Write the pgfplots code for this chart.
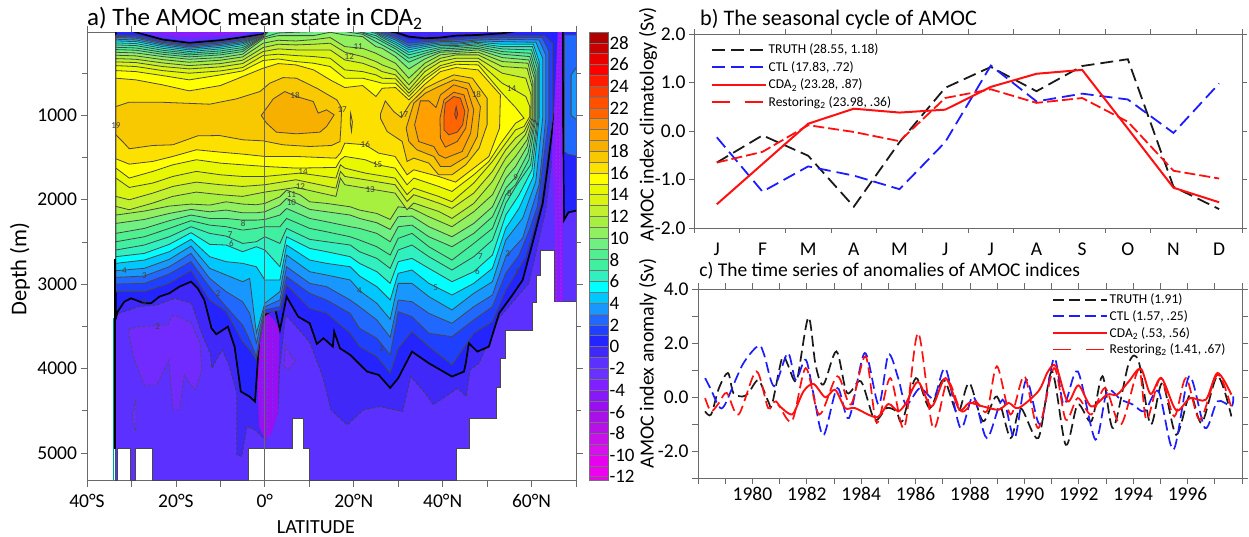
\documentclass[border=0pt]{standalone}
\usepackage{fontspec}
\setmainfont{Carlito}
\usepackage{pgfplots}
\pgfplotsset{compat=1.18}
% band colours of the colour bar
\definecolor{c28}{HTML}{B00000}\definecolor{c27}{HTML}{C80000}\definecolor{c26}{HTML}{E80000}\definecolor{c25}{HTML}{FF0000}
\definecolor{c24}{HTML}{FF1A00}\definecolor{c23}{HTML}{FF3C00}\definecolor{c22}{HTML}{FF5000}\definecolor{c21}{HTML}{FF6400}
\definecolor{c20}{HTML}{FF8C00}\definecolor{c19}{HTML}{FFA000}\definecolor{c18}{HTML}{F8B000}\definecolor{c17}{HTML}{F8C800}
\definecolor{c16}{HTML}{FCE000}\definecolor{c15}{HTML}{FFFF00}\definecolor{c14}{HTML}{E8F800}\definecolor{c13}{HTML}{D8F410}
\definecolor{c12}{HTML}{C0F030}\definecolor{c11}{HTML}{A8F040}\definecolor{c10}{HTML}{90F060}\definecolor{c9}{HTML}{70F080}
\definecolor{c8}{HTML}{50F090}\definecolor{c7}{HTML}{40F0A0}\definecolor{c6}{HTML}{30F0C0}\definecolor{c5}{HTML}{00FFFF}
\definecolor{c4}{HTML}{00C8FF}\definecolor{c3}{HTML}{1898FF}\definecolor{c2}{HTML}{2068FF}\definecolor{c1}{HTML}{2040FF}
\definecolor{c0}{HTML}{2424FF}\definecolor{cm1}{HTML}{4028F8}\definecolor{cm2}{HTML}{5C30FF}\definecolor{cm3}{HTML}{6A30FF}
\definecolor{cm4}{HTML}{8020FF}\definecolor{cm5}{HTML}{8818F8}\definecolor{cm6}{HTML}{9810F0}\definecolor{cm7}{HTML}{A810E8}
\definecolor{cm8}{HTML}{B810E8}\definecolor{cm9}{HTML}{C810E8}\definecolor{cm10}{HTML}{D810F0}\definecolor{cm11}{HTML}{E800F0}
\definecolor{cm12}{HTML}{F000F0}
\definecolor{axc}{HTML}{6A6A6A}
\definecolor{tblack}{HTML}{1A1A1A}\definecolor{tblue}{HTML}{1C1CFF}\definecolor{tred}{HTML}{FF1010}
\newcommand{\sz}[1]{\fontsize{#1}{#1}\selectfont}
\newcommand{\Iso}[2]{\addplot[fill=#1,draw=black!72,line width=.8pt] coordinates {#2} -- cycle;}
\newcommand{\Bnd}[3]{\addplot[fill=#1,draw=black!55,line width=.6pt] coordinates {(0,#2)(1,#2)(1,#3)(0,#3)} -- cycle;}
\newcommand{\Lab}[3]{\node[font=\sz{9},text=black!75,inner sep=0pt] at (axis cs:#1,#2) {#3};}
\begin{document}
\begin{tikzpicture}
\path[use as bounding box] (0,0) rectangle (1249pt,536pt);
%------------------------------------------------ panel a
\begin{axis}[at={(87pt,56pt)},anchor=south west,scale only axis,width=489pt,height=448pt,
 xmin=-40,xmax=70,ymin=14,ymax=5320,y dir=reverse,
 axis line style={axc,line width=.8pt},tick style={axc,line width=.8pt},
 tick align=outside,major tick length=6.5pt,minor tick length=5pt,
 xtick={-40,-30,...,70},xticklabels={40°S,,20°S,,0°,,20°N,,40°N,,60°N,},
 ytick={1000,2000,3000,4000,5000},minor ytick={500,1500,2500,3500,4500},
 xticklabel pos=bottom,yticklabel pos=left,
 /pgf/number format/1000 sep={},/pgf/number format/assume math mode=true,
 tick label style={font=\sz{19.5}},xticklabel style={yshift=-4pt},
 xlabel={LATITUDE},xlabel style={font=\sz{20},at={(axis description cs:0.468,-0.105)},anchor=center},
 ylabel={Depth (m)},ylabel style={font=\sz{22.5},at={(axis description cs:-0.137,0.471)},anchor=center,rotate=0},
 title={a) The AMOC mean state in CDA\textsubscript{2}},title style={font=\sz{25},at={(axis description cs:0,1)},anchor=west,yshift=7.5pt,inner sep=0pt}]
% ocean domain with the bottom steps
\Iso{cm2}{(-33.6,0)(-33.6,5330)(-33.1,5330)(-33.1,4950)(-30.3,4950)(-30.3,5330)(-29.2,5330)(-29.2,4950)(-25.2,4950)(-25.2,5330)(-3.6,5330)(-3.6,4950)(6.1,4950)(6.1,4588)(8.7,4588)(8.7,4950)(10.1,4950)(10.1,5330)(43,5330)(43,4950)(46,4950)(46,4588)(52.2,4588)(52.2,4221)(53.1,4221)(53.1,3878)(54.1,3878)(54.1,3543)(60.2,3543)(60.2,3215)(61.2,3215)(61.2,2892)(62,2892)(62,2596)(65.1,2596)(65.1,3208)(70,3208)(70,0)}
% -2 islands
\addplot[fill=cm3!70!cm4,draw=black!70,dash pattern=on 3pt off 2pt,line width=.6pt] coordinates {(-30.8,3543)(-28.5,3503)(-21.8,3484)(-21,3385)(-20.2,3365)(-16.5,3464)(-14.6,3700)(-14.2,4016)(-15.6,4252)(-16.9,4174)(-18.1,4075)(-19.2,4489)(-20.6,4489)(-21.6,3898)(-24.3,4194)(-27.1,4194)(-29.4,3878)} -- cycle;
\addplot[fill=cm3!70!cm4,draw=black!70,dash pattern=on 3pt off 2pt,line width=.6pt] coordinates {(4.3,3976)(4.7,3720)(6.1,3878)(7,3898)(5.2,4016)} -- cycle;
\addplot[fill=cm3,draw=black!70,dash pattern=on 3pt off 2pt,line width=.6pt] coordinates {(-29.8,4568)(-29,4370)(-29,4745)} -- cycle;
% -1 line
\addplot[fill=cm1,draw=black!75,dash pattern=on 3pt off 2pt,line width=.7pt] coordinates {(-33.6,0)(66.5,0)(65.8,800)(64.9,1400)(63.2,2123)(59.4,2991)(52.7,3400)(48.2,3937)(46.2,4016)(45.3,4331)(43.4,4233)(37.9,4430)(36.1,4292)(32.8,4095)(31,4509)(25.9,4450)(22.2,4489)(18.5,4667)(14.9,4489)(13,4095)(10.2,3700)(8.4,3582)(4.7,3365)(3.3,4016)(2.9,4528)(0.1,4844)(-2.2,4726)(-4,4686)(-5.2,5041)(-6.3,5021)(-6.3,4292)(-8.2,3937)(-9.6,3779)(-11.9,3996)(-12.3,3819)(-14.2,3582)(-16.5,3227)(-20.2,3168)(-24.3,3247)(-28.5,3267)(-30.5,3306)(-33.6,3360)} -- cycle;
% equatorial deep cell
\addplot[fill=cm6,draw=none] coordinates {(-1.5,3385)(0.1,3326)(2.1,3424)(3.3,3543)(2.9,4528)(1.5,4765)(0.1,4844)(-1.3,4686)(-1.7,4016)} -- cycle;
\addplot[draw=cm3,line width=1pt,dash pattern=on 2pt off 2pt] coordinates {(-0.6,3400)(-0.6,4600)};
\addplot[draw=cm3,line width=1pt,dash pattern=on 2pt off 2pt] coordinates {(0.6,3400)(0.6,4800)};
\addplot[draw=cm3,line width=1pt,dash pattern=on 2pt off 2pt] coordinates {(1.8,3500)(1.8,4600)};
% isolines, each region >= level
\addplot[fill=c0,draw=black,line width=1.7pt] coordinates {(-33.5,0)(-30,0)(-28,30)(-23,104)(-17,143)(-10,112)(-5,76)(-0.4,41)(1,0)(26.4,0)(29.4,17)(32.4,69)(36,88)(39.5,80)(43,57)(48,49)(53.4,29)(57,0)(67,0)(66.2,364)(65.8,759)(64.7,1153)(63.6,1626)(62.5,2044)(60.2,2518)(58,2951)(55.7,3129)(52.7,3346)(50.4,3740)(47.8,3799)(45.9,3700)(45.2,3937)(44.8,4036)(42.1,4095)(36.9,3937)(33.1,3799)(30,4114)(28.2,4229)(25.6,4075)(23,4036)(21.1,3937)(19.2,3838)(16.9,3760)(15.6,3562)(15.3,3740)(13.2,3641)(11.7,3708)(10.1,3464)(7.5,3385)(4.9,3148)(3.4,3543)(2.3,3287)(0,3365)(-1,3464)(-2.2,4390)(-3.5,4330)(-5.4,4272)(-6.8,3740)(-8.3,3503)(-10.9,3594)(-12,3523)(-13.6,3188)(-15.1,3050)(-16.6,2971)(-19.2,3030)(-21.5,3109)(-23.7,3148)(-25.6,3227)(-27.1,3227)(-30.1,3168)(-31.6,3208)(-33.1,3326)(-33.5,3400)} -- cycle;
\Iso{c1}{(-33.5,49)(-29,53)(-23,120)(-17,159)(-10,128)(-5,92)(-0.4,49)(1,0)(26.4,0)(29.4,41)(32.4,108)(36,108)(39.5,100)(43,88)(48,69)(53.4,57)(63,60)(64.7,150)(64.7,1035)(62.1,2044)(60.2,2399)(58.7,2675)(56.7,2853)(54.2,3070)(51.2,3444)(47,3582)(42.1,3957)(36.9,3740)(33.1,3562)(30,3760)(28.2,4055)(25.2,3858)(21.3,3740)(19.2,3582)(13.9,3346)(10.1,3287)(4.9,3011)(3.4,3306)(0,3346)(-1.9,3898)(-3.4,3779)(-5,3681)(-8.7,3326)(-12.4,3188)(-16.6,2841)(-21.5,2991)(-27.1,3089)(-33.5,3089)}
\Iso{c2}{(-33.5,65)(-29,73)(-23,136)(-17,175)(-10,143)(-5,108)(-0.4,53)(1,0)(24,0)(26.4,17)(29.4,69)(32.4,147)(36,128)(39.5,116)(43,108)(48,88)(53.4,80)(62.4,80)(63.9,240)(63.9,1035)(61.3,2084)(59.5,2360)(57.2,2656)(54.2,2872)(51.2,3267)(47,3424)(42.1,3622)(36.9,3582)(33.1,3385)(30,3326)(28.2,3838)(25.2,3641)(21.3,3523)(19.2,3346)(13.9,3188)(10.1,3109)(4.9,2912)(3.4,3267)(0,3306)(-1.9,3858)(-3.4,3661)(-5,3484)(-8.7,3267)(-12.4,3038)(-16.6,2734)(-21.5,2880)(-27.1,2991)(-33.5,2999)}
\Iso{c3}{(-33.5,80)(-29,88)(-23,151)(-17,191)(-10,159)(-5,124)(-0.4,57)(1,0)(24,0)(26.4,33)(29.4,88)(32.4,175)(36,147)(39.5,128)(43,128)(48,108)(53.4,100)(61.7,108)(63.2,285)(63.2,1035)(61.7,1823)(58,2454)(54.2,2675)(51.2,3129)(47,3267)(42.1,3464)(36.9,3346)(33.1,3208)(30,3188)(28.2,3629)(25.2,3424)(21.3,3267)(19.2,3188)(13.9,3030)(10.1,2991)(4.9,2794)(3.4,3188)(0,3267)(-1.9,3700)(-3.4,3346)(-5,3208)(-8.7,3089)(-12.4,2932)(-16.6,2636)(-21.5,2794)(-27.1,2904)(-33.5,2920)}
\Iso{c4}{(-33.5,100)(-29,108)(-23,167)(-17,207)(-10,175)(-5,140)(-0.4,61)(1,0)(24,0)(26.4,49)(29.4,108)(32.4,199)(36,167)(39.5,143)(43,147)(48,120)(53.4,128)(61,136)(62.5,325)(62.5,1035)(60.95,1784)(58,2218)(54.2,2478)(51.2,2971)(47,3109)(42.1,3306)(36.9,3148)(33.1,2991)(30,2991)(28.2,3417)(25.2,3227)(21.3,3077)(19.2,2951)(13.9,2892)(10.1,2853)(4.9,2656)(3.4,3089)(0,3227)(-1.9,3582)(-3.4,2932)(-5,2971)(-8.7,2892)(-12.4,2813)(-16.6,2549)(-21.5,2707)(-27.1,2813)(-33.5,2841)}
\Iso{c5}{(-33.5,120)(-29,128)(-23,187)(-17,226)(-10,195)(-5,155)(-0.4,65)(1,0)(23,0)(25,17)(26.4,65)(29.4,136)(32.4,226)(36,187)(39.5,159)(43,159)(48,136)(53.4,159)(60.4,159)(61.7,364)(61.7,1035)(60.4,1725)(57.2,2100)(54.2,2340)(51.2,2813)(47,2991)(42.1,3129)(36.9,2991)(33.1,2833)(30,2872)(28.2,3188)(25.2,3030)(21.3,2904)(19.2,2794)(13.9,2754)(10.1,2715)(4.9,2537)(3.4,2951)(0,2951)(-1.9,2794)(-5,2754)(-8.7,2734)(-12.4,2675)(-16.6,2470)(-21.5,2616)(-27.1,2715)(-33.5,2754)}
\Iso{c6}{(-33.5,143)(-29,151)(-23,207)(-17,246)(-10,214)(-5,175)(-0.4,69)(1,0)(23,0)(25,33)(26.4,80)(29.4,159)(32.4,254)(36,207)(39.5,175)(43,175)(48,151)(53.4,187)(60.2,187)(61.5,404)(61.5,1035)(60.1,1646)(57.2,1942)(54.2,2182)(51.2,2656)(47,2853)(42.1,2971)(36.9,2813)(33.1,2695)(30,2734)(28.2,2991)(25.2,2853)(21.3,2754)(19.2,2675)(13.9,2616)(10.1,2577)(4.9,2439)(3.4,2794)(0,2596)(-1.9,2557)(-5,2616)(-8.7,2537)(-12.4,2529)(-16.6,2391)(-21.5,2529)(-27.1,2636)(-33.5,2675)}
\Iso{c7}{(-33.5,167)(-29,175)(-23,230)(-17,266)(-10,238)(-5,199)(-0.4,73)(1,0)(20,0)(22,17)(25,57)(26.4,104)(29.4,187)(32.4,285)(36,238)(39.5,195)(43,187)(48,167)(53.4,214)(60,226)(61.3,443)(61.3,1035)(59.8,1587)(56.7,1823)(54.2,2044)(51.2,2478)(47,2675)(42.1,2833)(36.9,2675)(33.1,2537)(30,2596)(28.2,2813)(25.2,2695)(21.3,2616)(19.2,2537)(13.9,2498)(10.1,2470)(4.9,2340)(3.4,2518)(0,2439)(-1.9,2498)(-5,2518)(-8.7,2431)(-12.4,2399)(-16.6,2320)(-21.5,2439)(-27.1,2537)(-33.5,2596)}
\Iso{c8}{(-33.5,195)(-29,203)(-23,254)(-17,285)(-10,262)(-5,222)(-0.4,76)(1,0)(20,0)(22,25)(25,88)(26.4,128)(29.4,214)(32.4,325)(36,266)(39.5,214)(43,207)(48,187)(53.4,246)(59.8,266)(61,483)(61,1035)(59.4,1528)(56.4,1824)(54.2,1942)(51.2,2340)(47,2518)(42.1,2715)(36.9,2557)(33.1,2399)(30,2458)(28.2,2656)(25.2,2557)(21.3,2478)(19.2,2439)(13.9,2380)(10.1,2340)(4.9,2222)(3.4,2320)(0,2320)(-1.9,2340)(-5,2360)(-8.7,2320)(-12.4,2301)(-16.6,2249)(-21.5,2340)(-27.1,2439)(-33.5,2498)}
\Iso{c9}{(-33.5,222)(-29,230)(-23,278)(-17,309)(-10,285)(-5,246)(-0.4,80)(3,25)(7,17)(11,9)(14.7,2)(18,9)(22,41)(25,128)(26.4,167)(29.4,254)(32.4,372)(36,293)(39.5,238)(43,226)(48,207)(53.4,277)(59.6,305)(60.8,522)(60.8,1035)(59.2,1449)(56.4,1733)(54.2,1863)(51.2,2202)(47,2399)(42.1,2557)(36.9,2439)(33.1,2301)(30,2320)(28.2,2498)(25.2,2399)(21.3,2340)(19.2,2320)(13.9,2261)(10.1,2222)(4.9,2104)(3.4,2182)(0,2234)(-1.9,2242)(-5,2242)(-8.7,2222)(-12.4,2222)(-16.6,2182)(-21.5,2249)(-27.1,2340)(-33.5,2399)}
\Iso{c10}{(-33.5,254)(-29,262)(-23,305)(-17,337)(-10,317)(-5,277)(-0.4,96)(3,57)(7,57)(11,57)(14.7,17)(18,49)(22,69)(25,187)(26.4,207)(29.4,305)(32.4,451)(36,333)(39.5,254)(43,246)(48,226)(53.4,317)(59.4,345)(60.6,561)(60.6,1035)(59,1370)(56.4,1607)(54.2,1745)(51.2,2084)(47,2281)(42.1,2439)(36.9,2320)(33.1,2194)(30,2202)(28.2,2352)(25.2,2273)(21.3,2222)(19.2,2182)(13.9,2143)(10.1,2115)(4.9,1985)(3.4,2064)(0,2143)(-1.9,2155)(-5,2155)(-8.7,2123)(-12.4,2143)(-16.6,2115)(-21.5,2163)(-27.1,2234)(-33.5,2281)}
\Iso{c11}{(-33.5,289)(-29,297)(-23,341)(-17,372)(-10,348)(-5,309)(-0.4,147)(3,112)(7,120)(11,104)(14.7,80)(18,187)(22,207)(25,266)(26.4,305)(29.4,384)(32.4,561)(36,384)(39.5,285)(43,266)(48,254)(53.4,364)(59.2,384)(60.3,620)(60.3,1035)(59,1291)(56.4,1488)(54.2,1626)(51.2,1942)(47,2143)(42.1,2320)(36.9,2202)(33.1,2104)(30,2084)(28.2,2234)(25.2,2163)(21.3,2123)(19.2,2084)(13.9,2044)(10.1,2025)(7.9,1942)(4.9,1887)(3.4,1966)(0,2044)(-1.9,2060)(-5,2052)(-8.7,2025)(-12.4,2064)(-16.6,2052)(-21.5,2076)(-27.1,2135)(-33.5,2182)}
\Iso{c12}{(-33.5,329)(-29,337)(-23,380)(-17,412)(-10,388)(-5,348)(-0.4,199)(3,159)(7,167)(11,159)(14.7,147)(18,254)(22,305)(25,364)(26.4,404)(29.4,463)(32.4,640)(36,435)(39.5,325)(43,285)(48,285)(53.4,423)(59,443)(60.1,660)(60.1,1035)(58.6,1232)(56.4,1370)(54.2,1508)(51.2,1784)(47,2044)(42.1,2221)(39.1,2139)(33.5,2040)(32,2119)(29.3,1922)(22.6,1863)(18,1823)(17,1744)(16,1961)(7,1855)(0,1910)(-5,1961)(-10,1941)(-15.4,1910)(-20.7,1961)(-25.2,2040)(-30.5,2119)(-33.5,2080)}
\Iso{c13}{(-33.5,368)(-29,376)(-23,423)(-17,451)(-10,427)(-5,388)(-0.4,246)(3,214)(7,226)(11,226)(14.7,226)(18,345)(22,384)(25,443)(26.4,483)(29.4,522)(32.4,699)(36,483)(39.5,364)(43,325)(48,325)(53.4,502)(58.7,561)(59.9,759)(59.8,1035)(58.3,1192)(56.4,1271)(54.2,1409)(51.2,1665)(47,1922)(42.1,2103)(39.1,2040)(33.5,1941)(32,2021)(29.3,1823)(22.6,1764)(18,1725)(17,1665)(16,1863)(7,1764)(0,1823)(-5,1843)(-10,1823)(-15.4,1792)(-20.7,1843)(-25.2,1922)(-30.5,2001)(-33.5,1961)}
\Iso{c14}{(-33.5,412)(-29,423)(-23,471)(-17,502)(-10,475)(-5,435)(-0.4,293)(3,277)(7,293)(11,305)(14.7,325)(18,463)(22,483)(25,522)(26.4,561)(29.4,569)(32.4,739)(36,542)(39.5,412)(43,364)(48,364)(53.4,621)(55.5,680)(58.7,778)(59.6,897)(59.6,1015)(58.3,1133)(56.4,1173)(54.2,1330)(51.2,1547)(47,1803)(42.1,2024)(39.1,1961)(33.5,1863)(32,1941)(29.3,1744)(22.6,1685)(18,1626)(17,1587)(16,1744)(7.9,1685)(0,1725)(-5,1725)(-10,1705)(-15.4,1665)(-20.7,1725)(-25.2,1803)(-30.5,1855)(-33.5,1744)}
\Iso{c15}{(-33.5,471)(-29,483)(-23,530)(-17,581)(-10,522)(-5,475)(-0.4,352)(3,333)(7,364)(11,384)(14.7,423)(18,561)(22,561)(25,601)(26.4,621)(29.4,621)(32.4,778)(36,581)(39.5,443)(43,396)(48,404)(53.4,739)(56.4,908)(58.3,1035)(56.4,1094)(53.1,1330)(50.4,1547)(47,1705)(42.1,1902)(39.1,1843)(33.5,1744)(32,1823)(29.3,1626)(25.4,1587)(22.6,1527)(18,1488)(17,1527)(16,1618)(7,1626)(0,1606)(-5,1587)(-10,1567)(-15.4,1527)(-20.7,1587)(-25.2,1665)(-30.5,1744)(-33.5,1626)}
\Iso{c16}{(-33.5,561)(-29,581)(-23,640)(-17,711)(-10,648)(-5,542)(-0.4,443)(3,388)(7,404)(11,463)(14.7,581)(18,672)(22,648)(25,778)(26.4,680)(29.4,672)(32.4,818)(36,632)(39.5,483)(43,435)(48,463)(53,759)(52.8,1153)(50.4,1488)(47,1626)(42.9,1792)(39.1,1725)(33.5,1646)(32,1705)(29.3,1488)(25.6,1449)(22.6,1350)(18,1330)(17,1449)(16,1508)(7,1488)(0,1488)(-5,1460)(-10,1437)(-15.4,1409)(-20.7,1488)(-25.2,1547)(-30.5,1579)(-33.5,1516)}
% level 17 and above
\Iso{c17}{(-33.5,897)(-30.5,845)(-23.7,845)(-12.4,869)(-6.4,806)(-1.1,719)(1.1,621)(4.1,554)(7.1,561)(11.7,680)(16.2,818)(17.3,916)(17.1,1153)(16.9,1311)(15,1358)(10.1,1370)(4.1,1350)(-0.4,1303)(-4.9,1291)(-10.2,1240)(-15.1,1244)(-20.7,1350)(-25.2,1358)(-30.5,1397)(-32,1311)(-33.5,1232)}
\Iso{c17}{(19.3,975)(19.7,1080)(19.5,1190)(19.2,1080)}
\Iso{c17}{(26,987)(27.1,830)(29,956)(30.7,1027)(32.7,857)(36.1,680)(39.1,601)(42.5,522)(46.7,561)(50,798)(50,1113)(48.2,1390)(45.2,1587)(42.1,1705)(39.1,1705)(36.9,1567)(33.5,1508)(32,1547)(30.9,1311)(27.5,1192)(26,1035)}
\Iso{c18}{(-0.8,1003)(1.9,806)(4.5,719)(7.1,778)(10.9,837)(12,975)(13.9,936)(15.6,995)(13.9,1133)(12.4,1200)(7.1,1220)(2.6,1200)(0.4,1094)}
\Iso{c18}{(31.8,1153)(33.5,857)(36.1,739)(39.1,660)(42.5,581)(45.9,621)(48.5,897)(47.8,1252)(45.5,1488)(41.8,1606)(39.5,1606)(38,1488)(34.2,1409)(32.4,1311)}
\Iso{c19}{(33.7,1113)(35,830)(36.9,830)(38.5,908)(39.5,759)(42.5,640)(45.5,688)(47,936)(46.3,1212)(44.4,1429)(40.6,1508)(39.1,1468)(38,1370)(34.6,1311)}
\Iso{c20}{(39.4,1035)(40.3,818)(42.5,727)(44.8,759)(45.8,936)(45.2,1153)(43.3,1311)(40.6,1378)(39.5,1271)}
\Iso{c21}{(40.3,1015)(40.6,857)(42.5,778)(44,798)(45,956)(44.5,1113)(43.3,1200)(41.4,1232)(40.3,1173)}
\Iso{c23}{(43.04,897)(43.4,987)(43.04,1043)(42.7,987)}
% eastern cell
\addplot[fill=c0,draw=black,line width=1.7pt] coordinates {(67,0)(70.5,0)(70.5,2124)(68.3,2150)(67.3,2242)(67.1,1200)} -- cycle;
\Iso{c2}{(67.4,49)(70.5,49)(70.5,1488)(68.1,1460)(67.4,1429)}
\Iso{c3}{(70.5,404)(68.9,522)(68.9,1000)(70.5,1070)}
% strip of negative values at 65N
\addplot[fill=cm4,draw=none] coordinates {(65.9,0)(66.8,0)(66.9,1200)(67.1,2200)(67.1,3208)(65.3,3208)(65.3,2200)(64.5,1500)(65.2,800)} -- cycle;
\addplot[draw=cm9,line width=1.1pt,dash pattern=on 2pt off 2pt] coordinates {(66.2,0)(65.6,1000)(65.5,2200)(65.6,3208)};
\addplot[draw=cm9,line width=1.1pt,dash pattern=on 2pt off 2pt] coordinates {(66.5,0)(66.2,1000)(66.4,2200)(66.6,3208)};
% surface cell in the south
\addplot[fill=cm2,draw=none] coordinates {(-29.5,0)(-23,85)(-17,125)(-10,95)(-5,60)(-1,0)} -- cycle;
\addplot[fill=cm4,draw=none] coordinates {(-26,0)(-20,72)(-16,85)(-10,62)(-5,30)(-3,0)} -- cycle;
\addplot[draw=cm8,line width=1.2pt,dash pattern=on 1.5pt off 1.5pt] coordinates {(-25,38)(-15,45)(-5,30)};
% side lines and 0 degree line
\addplot[draw=black,line width=2pt] coordinates {(-33.6,2700)(-33.6,4950)};
\addplot[draw=c5!60!black,line width=1pt] coordinates {(-34.1,3400)(-34.1,5320)};
\addplot[draw=c3!60!black,line width=1.8pt] coordinates {(-33.6,4950)(-33.6,5320)};
\addplot[draw=black!60,line width=.9pt] coordinates {(0,0)(0,5320)};
% contour labels
\Lab{6.8}{766}{18}\Lab{8.6}{1673}{14}\Lab{8}{1843}{12}\Lab{6}{1942}{11}\Lab{6}{2040}{10}
\Lab{17.4}{936}{17}\Lab{-4.9}{2281}{8}\Lab{-7.8}{2419}{7}\Lab{-7.5}{2518}{6}\Lab{-31.6}{2841}{4}
\Lab{-27.1}{2904}{3}\Lab{-27.1}{3208}{0}\Lab{-24.1}{3503}{2}\Lab{-10.5}{3109}{2}\Lab{22.6}{1350}{16}
\Lab{25.4}{1587}{15}\Lab{23.7}{1882}{13}\Lab{21}{185}{11}\Lab{19}{300}{12}\Lab{31.2}{987}{17}
\Lab{47.6}{759}{18}\Lab{55.5}{680}{14}\Lab{56.4}{1733}{9}\Lab{55}{1922}{8}\Lab{21.3}{3077}{4}
\Lab{26.3}{3760}{2}\Lab{54.6}{2636}{3}\Lab{47.8}{2853}{6}\Lab{48.5}{2675}{7}\Lab{38.4}{3038}{5}
\Lab{56.7}{2853}{1}\Lab{-33.5}{1120}{19}
\end{axis}
%------------------------------------------------ colour bar
\begin{axis}[at={(589pt,56pt)},anchor=south west,scale only axis,width=19pt,height=448pt,
 xmin=0,xmax=1,ymin=-12.3,ymax=29,xtick=\empty,ytick={-12,-10,...,28},yticklabel pos=right,
 axis line style={axc,line width=.8pt},major tick length=0pt,
 /pgf/number format/assume math mode=true,tick label style={font=\sz{19}},
 yticklabel style={xshift=-2pt}]
\Bnd{c28}{28}{29}\Bnd{c27}{27}{28}\Bnd{c26}{26}{27}\Bnd{c25}{25}{26}\Bnd{c24}{24}{25}\Bnd{c23}{23}{24}\Bnd{c22}{22}{23}\Bnd{c21}{21}{22}
\Bnd{c20}{20}{21}\Bnd{c19}{19}{20}\Bnd{c18}{18}{19}\Bnd{c17}{17}{18}\Bnd{c16}{16}{17}\Bnd{c15}{15}{16}\Bnd{c14}{14}{15}\Bnd{c13}{13}{14}
\Bnd{c12}{12}{13}\Bnd{c11}{11}{12}\Bnd{c10}{10}{11}\Bnd{c9}{9}{10}\Bnd{c8}{8}{9}\Bnd{c7}{7}{8}\Bnd{c6}{6}{7}\Bnd{c5}{5}{6}
\Bnd{c4}{4}{5}\Bnd{c3}{3}{4}\Bnd{c2}{2}{3}\Bnd{c1}{1}{2}\Bnd{c0}{0}{1}\Bnd{cm1}{-1}{0}\Bnd{cm2}{-2}{-1}\Bnd{cm3}{-3}{-2}
\Bnd{cm4}{-4}{-3}\Bnd{cm5}{-5}{-4}\Bnd{cm6}{-6}{-5}\Bnd{cm7}{-7}{-6}\Bnd{cm8}{-8}{-7}\Bnd{cm9}{-9}{-8}\Bnd{cm10}{-10}{-9}\Bnd{cm11}{-11}{-10}
\Bnd{cm12}{-12}{-11}\Bnd{cm12}{-12.3}{-12}
\end{axis}
%------------------------------------------------ panel b
\begin{axis}[at={(694pt,308pt)},anchor=south west,scale only axis,width=548pt,height=194pt,
 xmin=0,xmax=12,ymin=-2,ymax=2,
 axis line style={axc,line width=.8pt},tick style={axc,line width=.8pt},
 tick align=outside,major tick length=5pt,
 xtick={0,...,12},xticklabels={},
 extra x ticks={0.5,1.5,...,11.5},extra x tick labels={J,F,M,A,M,J,J,A,S,O,N,D},
 extra x tick style={major tick length=0pt,xticklabel style={yshift=-11pt}},
 ytick={-2,-1,0,1,2},xticklabel pos=bottom,yticklabel pos=left,
 /pgf/number format/fixed,/pgf/number format/fixed zerofill,/pgf/number format/precision=1,
 /pgf/number format/assume math mode=true,tick label style={font=\sz{19.5}},
 ylabel={AMOC index climatology (Sv)},ylabel style={font=\sz{20},at={(axis description cs:-0.084,0.535)},anchor=center},
 title={b) The seasonal cycle of AMOC},title style={font=\sz{22.2},at={(axis description cs:0.011,1)},anchor=west,yshift=9pt,inner sep=0pt},
 legend cell align=left,
 legend style={at={(0.03,0.96)},anchor=north west,draw=none,fill=none,font=\sz{13.5},row sep=2.2pt,inner sep=0pt,/tikz/every even column/.append style={column sep=15pt}},
 legend image code/.code={\draw[#1] (0pt,0pt) -- (54pt,0pt);}]
\addplot[tblack,line width=1.8pt,dash pattern=on 13pt off 6pt] coordinates {(0.5,-0.65)(1.5,-0.09)(2.5,-0.51)(3.5,-1.56)(4.5,-0.23)(5.5,0.89)(6.5,1.32)(7.5,0.82)(8.5,1.34)(9.5,1.48)(10.5,-1.15)(11.5,-1.61)};
\addplot[tblue,line width=1.8pt,dash pattern=on 13pt off 6pt] coordinates {(0.5,-0.13)(1.5,-1.25)(2.5,-0.73)(3.5,-0.92)(4.5,-1.2)(5.5,-0.23)(6.5,1.35)(7.5,0.61)(8.5,0.77)(9.5,0.65)(10.5,-0.04)(11.5,0.98)};
\addplot[tred,line width=2pt] coordinates {(0.5,-1.51)(1.5,-0.68)(2.5,0.15)(3.5,0.46)(4.5,0.38)(5.5,0.44)(6.5,0.91)(7.5,1.18)(8.5,1.26)(9.5,0.05)(10.5,-1.17)(11.5,-1.47)};
\addplot[tred,line width=1.8pt,dash pattern=on 11pt off 4pt,legend image post style={dash pattern=on 18pt off 15pt}] coordinates {(0.5,-0.65)(1.5,-0.43)(2.5,0.12)(3.5,-0.02)(4.5,-0.21)(5.5,0.68)(6.5,0.86)(7.5,0.58)(8.5,0.68)(9.5,0.19)(10.5,-0.82)(11.5,-0.98)};
\legend{{TRUTH (28.55, 1.18)},{CTL (17.83, .72)},{CDA\textsubscript{2} (23.28, .87)},{Restoring\textsubscript{2} (23.98, .36)}}
\end{axis}
%------------------------------------------------ panel c
\begin{axis}[at={(698pt,58pt)},anchor=south west,scale only axis,width=544pt,height=189pt,
 xmin=1978,xmax=1998,ymin=-3,ymax=4,
 axis line style={axc,line width=.8pt},tick style={axc,line width=.7pt},
 tick align=outside,major tick length=6pt,minor tick length=3pt,
 xtick={1978,...,1998},xticklabels={,,1980,,1982,,1984,,1986,,1988,,1990,,1992,,1994,,1996,,},
 minor x tick num=11,
 ytick={-3,...,4},yticklabels={,-2.0,,0.0,,2.0,,4.0},xticklabel pos=bottom,yticklabel pos=left,
 /pgf/number format/assume math mode=true,tick label style={font=\sz{19.5}},
 ylabel={AMOC index anomaly (Sv)},ylabel style={font=\sz{20},at={(axis description cs:-0.092,0.606)},anchor=center},
 title={c) The time series of anomalies of AMOC indices},title style={font=\sz{19.5},at={(axis description cs:0.002,1)},anchor=west,yshift=12pt,inner sep=0pt},
 legend cell align=left,
 legend style={at={(0.65,0.985)},anchor=north west,draw=none,fill=none,font=\sz{13.5},row sep=1.2pt,inner sep=0pt,/tikz/every even column/.append style={column sep=17pt}},
 legend image code/.code={\draw[#1] (0pt,0pt) -- (54pt,0pt);}]
\addplot[tblack,line width=1.7pt,dash pattern=on 11pt off 5pt,smooth] coordinates {(1978.26,-.53)(1978.48,-.65)(1978.77,.33)(1979.10,.89)(1979.30,.15)(1979.64,.02)(1979.86,.15)(1980.22,.62)(1980.58,-.16)(1980.72,-.28)(1981.09,1.44)(1981.30,1.20)(1981.52,.64)(1981.67,.77)(1982.06,2.95)(1982.32,1.20)(1982.61,.46)(1983.09,1.69)(1983.48,.15)(1983.99,.58)(1984.49,-.84)(1984.93,-.41)(1985.29,-.53)(1985.51,-.90)(1986.01,.70)(1986.52,-.41)(1987.03,.64)(1987.54,-.59)(1987.97,.52)(1988.48,-.90)(1988.99,.02)(1989.49,-1.52)(1989.86,-.41)(1990.51,-1.52)(1991.01,.95)(1991.52,-1.77)(1991.96,-.28)(1992.46,-.90)(1992.87,.77)(1993.26,-1.15)(1993.84,1.26)(1994.20,1.32)(1994.64,-1.02)(1995.07,.52)(1995.58,-1.40)(1996.09,.09)(1996.52,-.96)(1997.10,.77)(1997.61,-.72)};
\addplot[tblue,line width=1.7pt,dash pattern=on 11pt off 5pt,smooth] coordinates {(1978.26,.70)(1978.48,.27)(1978.77,-.35)(1978.99,-.28)(1979.64,1.20)(1980.22,1.90)(1980.43,1.57)(1980.80,.40)(1981.30,1.63)(1981.59,.64)(1981.96,1.38)(1982.25,.09)(1982.61,-1.42)(1983.12,.33)(1983.55,-.78)(1984.13,1.63)(1984.64,-.28)(1985.00,1.57)(1985.36,.70)(1985.65,-.28)(1986.16,.33)(1986.67,-.04)(1987.10,1.05)(1987.65,-1.15)(1988.12,.02)(1988.62,-1.52)(1989.20,-.10)(1989.64,-1.52)(1990.07,.64)(1990.58,-1.02)(1991.09,1.44)(1991.45,-.28)(1991.96,.95)(1992.61,-1.58)(1993.04,.21)(1993.55,-.10)(1993.99,-.28)(1994.42,-.53)(1994.93,.21)(1995.48,-1.95)(1996.06,.77)(1996.64,-1.15)(1997.10,-.16)(1997.61,-.35)(1997.68,.02)};
\addplot[tred,line width=1.9pt,smooth] coordinates {(1980.94,-.28)(1981.30,-.59)(1981.52,-.59)(1981.88,.21)(1982.25,.48)(1982.68,-.01)(1983.04,.27)(1983.41,-.41)(1983.77,-.41)(1984.57,-.75)(1985.00,-.26)(1985.36,-.53)(1985.65,-.22)(1986.09,.56)(1986.59,-.35)(1987.10,.70)(1987.61,-.47)(1987.97,-.22)(1988.48,-.35)(1989.06,-.47)(1989.42,-.22)(1989.78,-.41)(1990.51,.21)(1990.87,.95)(1991.16,1.14)(1991.59,-.16)(1991.99,.43)(1992.46,-.35)(1993.04,.09)(1993.41,.09)(1993.84,.58)(1994.28,1.05)(1994.64,.11)(1995.04,.70)(1995.58,-.49)(1996.09,-.04)(1996.67,-.10)(1997.10,.89)(1997.61,.09)};
\addplot[tred,line width=1.7pt,dash pattern=on 11pt off 5pt,smooth,forget plot] coordinates {(1978.26,-.04)(1978.48,-.53)(1978.77,-.22)(1979.06,.15)(1979.49,-.65)(1980.14,.95)(1980.58,-.41)(1980.87,-.16)(1981.45,-.90)(1981.96,1.07)(1982.46,-.65)(1983.12,.77)(1983.62,-.28)(1984.16,1.51)(1984.57,-.96)(1985.07,.70)(1985.58,-1.15)(1986.09,2.37)(1986.64,-1.15)(1987.17,.58)(1987.68,-.53)(1988.19,-.16)(1988.62,-.53)(1988.99,1.14)(1989.49,-.65)(1990.00,.77)(1990.51,-1.15)(1991.09,1.07)(1991.52,-.84)(1991.96,-.04)(1992.46,-.65)(1992.97,.33)(1993.55,-1.02)(1994.20,1.01)(1994.49,-.84)(1995.00,.70)(1995.51,-.72)(1995.94,.70)(1996.45,-.84)(1997.10,.83)(1997.61,-.41)};
\addlegendimage{tred,line width=1.7pt,dash pattern=on 18pt off 15pt}
\legend{{TRUTH (1.91)},{CTL (1.57, .25)},{CDA\textsubscript{2} (.53, .56)},{Restoring\textsubscript{2} (1.41, .67)}}
\end{axis}
\end{tikzpicture}
\end{document}
